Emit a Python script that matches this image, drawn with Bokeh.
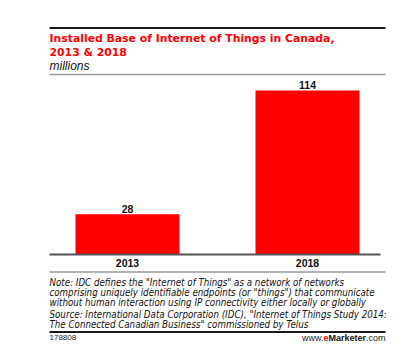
from bokeh.plotting import figure
from bokeh.models import Range1d, Label, ColumnDataSource
from bokeh.embed import file_html
from bokeh.resources import INLINE
from bokeh.core.properties import value

# ---- data ----
categories = ["2013", "2018"]
values = [28, 114]
title_lines = ["Installed Base of Internet of Things in Canada,", "2013 & 2018"]
subtitle = "millions"
note_lines = [
    'Note: IDC defines the "Internet of Things" as a network of networks',
    'comprising uniquely identifiable endpoints (or "things") that communicate',
    'without human interaction using IP connectivity either locally or globally',
    'Source: International Data Corporation (IDC), "Internet of Things Study 2014:',
    'The Connected Canadian Business" commissioned by Telus',
]
chart_id = "178808"
brand_parts = ["www.", "e", "Marketer", ".com"]

# ---- layout constants (pixels) ----
W, H = 400, 342
RED = "#ff0000"
PX_X = 180.0       # pixels per category step
X0_PAGE = 127.0    # x of first category centre
BASE_PAGE = 254.0  # y of the value axis zero
TOP_PAGE = 90.0    # y of the tallest bar top
PX_Y = (BASE_PAGE - TOP_PAGE) / 114.0  # pixels per million
LEFT, RIGHT = 49, 385
SHIFT = 16         # the footer block sits this much higher
TFIX = 2.5         # texts render slightly below their anchor

def xdata(px):
    return (px - X0_PAGE) / PX_X

def ydata(py):
    return (BASE_PAGE - py) / PX_Y

def sy(page_y):
    return H - page_y

idx = list(range(len(categories)))
src = ColumnDataSource(dict(x=idx, top=values, label=[str(v) for v in values],
                            cat=categories, zero=[0] * len(values)))

p = figure(width=W, height=H, output_backend="svg", toolbar_location=None,
           title=None,
           x_range=Range1d(xdata(0), xdata(W)),
           y_range=Range1d(ydata(H), ydata(0)),
           x_axis_location=None, y_axis_location=None, min_border=0)
p.outline_line_color = None
p.xgrid.visible = False
p.ygrid.visible = False
p.background_fill_color = "white"
p.border_fill_color = "white"

p.vbar(x="x", top="top", width=104 / PX_X, source=src, fill_color=RED, line_color=None)
p.text(x="x", y="top", text="label", source=src, text_align="center",
       text_baseline="alphabetic", y_offset=-3 - TFIX,
       text_font=value("Liberation Sans"), text_font_style="bold",
       text_font_size="10.5px", text_color="#111111")

# category axis
p.segment(x0=[xdata(LEFT)], x1=[xdata(380)], y0=[0], y1=[0],
          line_color="#555555", line_width=2)
p.text(x="x", y="zero", text="cat", source=src, text_align="center",
       text_baseline="top", y_offset=4,
       text_font=value("Liberation Sans"), text_font_style="bold",
       text_font_size="10.5px", text_color="#111111")

def label(x, page_y, text, font, size, style="normal", color="#111111", align="left"):
    p.add_layout(Label(x=x, y=sy(page_y - TFIX), x_units="screen", y_units="screen",
                       text=text, text_font=font, text_font_style=style,
                       text_font_size=size, text_color=color, text_align=align,
                       text_baseline="alphabetic"))

def rule(page_y, color, width):
    p.segment(x0=[xdata(LEFT)], x1=[xdata(RIGHT)],
              y0=[ydata(page_y)], y1=[ydata(page_y)],
              line_color=color, line_width=width)

rule(27.5, "#1a1a1a", 2)
rule(74, "#999999", 1.5)
rule(287.5 - SHIFT, "#999999", 1.5)
rule(347.5 - SHIFT, "#1a1a1a", 2)

# title
for t, yb in zip(title_lines, [40.7, 54.7]):
    label(LEFT, yb, t, "DejaVu Sans", "10.85px", "bold", RED)
label(LEFT, 68, subtitle, "Liberation Sans", "12px", "italic")

# notes
for t, yb in zip(note_lines, [300.3, 310.5, 320.7, 332.5, 342]):
    label(LEFT, yb - SHIFT, t, "DejaVu Sans Condensed", "9.7px", "italic")

FOOT = 339.5
label(LEFT, FOOT, chart_id, "Liberation Sans", "8px", color="#222222")

# brand, right aligned chain
widths = [22.0, 5.0, 37.5, 19.5]
styles = ["normal", "bold", "bold", "normal"]
colors = ["#222222", RED, "#111111", "#222222"]
xr = RIGHT
for part, w, st, c in reversed(list(zip(brand_parts, widths, styles, colors))):
    label(xr, FOOT, part, "Liberation Sans", "9px", st, c, "right")
    xr -= w

open("out.html", "w").write(file_html(p, INLINE))
